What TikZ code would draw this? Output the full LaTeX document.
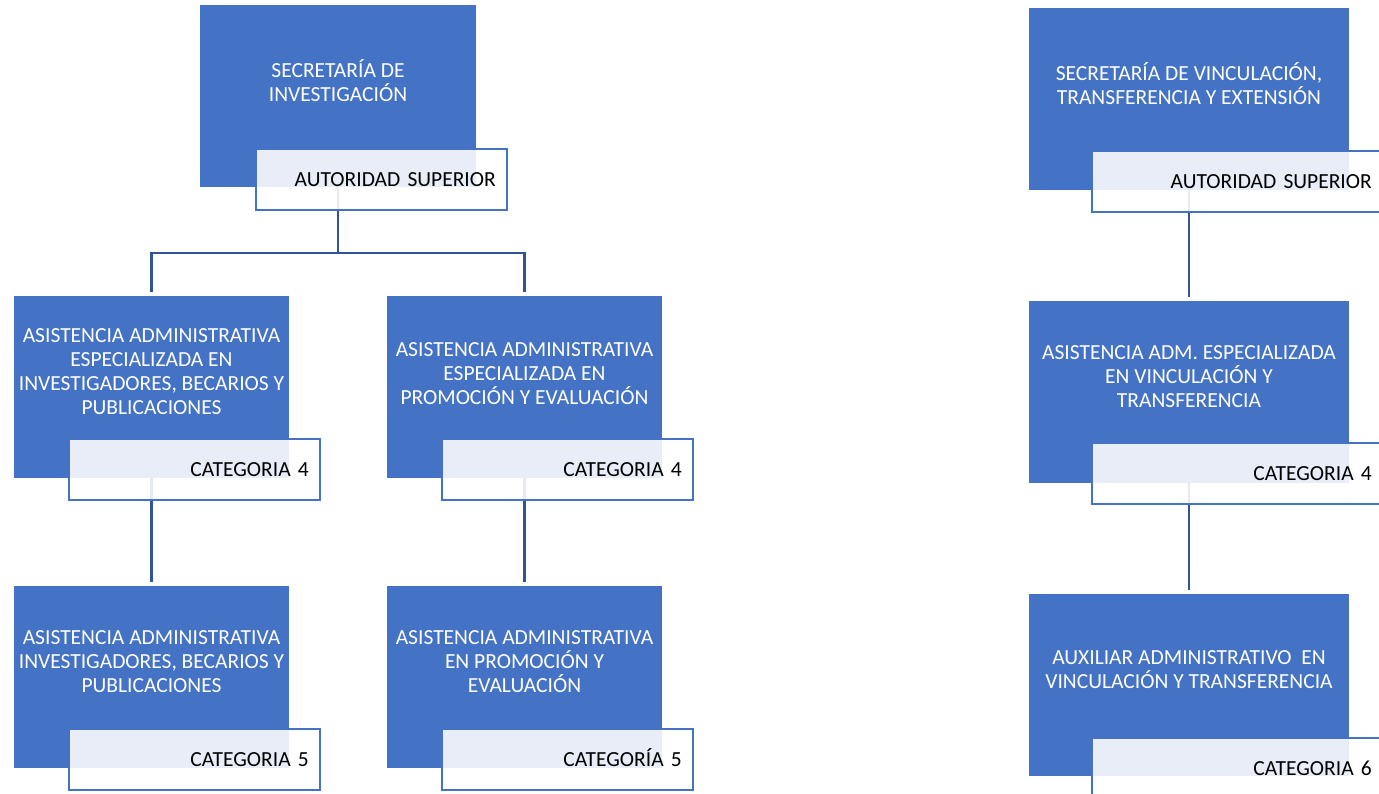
\documentclass[tikz,border=0pt]{standalone}
\usepackage{fontspec}
\setmainfont{Carlito}
\usepackage{xcolor}
\usepackage{tikz}
\usetikzlibrary{backgrounds}
\definecolor{unitblue}{HTML}{4472C4}
\definecolor{linkblue}{HTML}{2F5597}

\begin{document}
\begin{tikzpicture}[x=1pt,y=-1pt]
            \tikzset{unit/.style = {rectangle, fill=unitblue, minimum width=#1, minimum height=182pt, inner sep=0pt}}
            \tikzset{unittext/.style = {text=white, align=center, inner sep=0pt, font=\fontsize{21.5}{24}\selectfont}}
            \tikzset{tag/.style = {rectangle, draw=unitblue, line width=2pt, fill=white, fill opacity=0.88, text opacity=1, text width=#1, align=right, text height=14pt, text depth=0pt, inner xsep=11pt, inner ysep=0pt, minimum height=61pt, anchor=north west, font=\fontsize{21.5}{24}\selectfont}}
            \tikzset{link/.style = {draw=linkblue, line width=2.3pt}}

            \useasboundingbox (0,0) rectangle (1379,793);

            % secretaria de investigacion
            \node[unit=276pt] (inv) at (338,96) {};
            \node[unittext] (inv_txt) at ([yshift=15pt]inv.center) {SECRETARÍA DE\\INVESTIGACIÓN};
            \node[tag=229pt] (inv_tag) at ([xshift=55pt,yshift=39pt]inv.south west) {AUTORIDAD SUPERIOR};

            % investigadores, becarios y publicaciones
            \node[unit=275pt] (ainv) at (151.5,386.5) {};
            \node[unittext] (ainv_txt) at ([yshift=15pt]ainv.center) {ASISTENCIA ADMINISTRATIVA\\ESPECIALIZADA EN\\INVESTIGADORES, BECARIOS Y\\PUBLICACIONES};
            \node[tag=229pt] (ainv_tag) at ([xshift=54pt,yshift=40pt]ainv.south west) {CATEGORIA 4};

            \node[unit=275pt] (binv) at (151.5,676.5) {};
            \node[unittext] (binv_txt) at ([yshift=15pt]binv.center) {ASISTENCIA ADMINISTRATIVA\\INVESTIGADORES, BECARIOS Y\\PUBLICACIONES};
            \node[tag=229pt] (binv_tag) at ([xshift=54pt,yshift=40pt]binv.south west) {CATEGORIA 5};

            % promocion y evaluacion
            \node[unit=275pt] (apro) at (524.5,386.5) {};
            \node[unittext] (apro_txt) at ([yshift=13pt]apro.center) {ASISTENCIA ADMINISTRATIVA\\ESPECIALIZADA EN\\PROMOCIÓN Y EVALUACIÓN};
            \node[tag=229pt] (apro_tag) at ([xshift=54pt,yshift=40pt]apro.south west) {CATEGORIA 4};

            \node[unit=275pt] (bpro) at (524.5,676.5) {};
            \node[unittext] (bpro_txt) at ([yshift=15pt]bpro.center) {ASISTENCIA ADMINISTRATIVA\\EN PROMOCIÓN Y\\EVALUACIÓN};
            \node[tag=229pt] (bpro_tag) at ([xshift=54pt,yshift=40pt]bpro.south west) {CATEGORÍA 5};

            % secretaria de vinculacion
            \node[unit=320pt] (vin) at (1189,98.5) {};
            \node[unittext] (vin_txt) at ([yshift=15pt]vin.center) {SECRETARÍA DE VINCULACIÓN,\\TRANSFERENCIA Y EXTENSIÓN};
            \node[tag=269pt] (vin_tag) at ([xshift=62pt,yshift=40pt]vin.south west) {AUTORIDAD SUPERIOR};

            \node[unit=320pt] (avin) at (1189,391.5) {};
            \node[unittext] (avin_txt) at ([yshift=15pt]avin.center) {ASISTENCIA ADM. ESPECIALIZADA\\EN VINCULACIÓN Y\\TRANSFERENCIA};
            \node[tag=269pt] (avin_tag) at ([xshift=62pt,yshift=41pt]avin.south west) {CATEGORIA 4};

            \node[unit=320pt] (xvin) at (1189,684.5) {};
            \node[unittext] (xvin_txt) at ([yshift=15pt]xvin.center) {AUXILIAR ADMINISTRATIVO~~EN\\VINCULACIÓN Y TRANSFERENCIA};
            \node[tag=269pt] (xvin_tag) at ([xshift=62pt,yshift=39pt]xvin.south west) {CATEGORIA 6};

            % connectors, behind the boxes
            \begin{scope}[on background layer]
                \coordinate (bus) at (338,253);
                \draw[link] (inv) -- (bus) -| ([yshift=3pt]ainv.north);
                \draw[link] (bus) -| ([yshift=3pt]apro.north);
                \draw[link] (ainv) -- ([yshift=3pt]binv.north);
                \draw[link] (apro) -- ([yshift=3pt]bpro.north);
                \draw[link] (vin) -- ([yshift=3pt]avin.north);
                \draw[link] (avin) -- ([yshift=3pt]xvin.north);
            \end{scope}

        \end{tikzpicture}
\end{document}
